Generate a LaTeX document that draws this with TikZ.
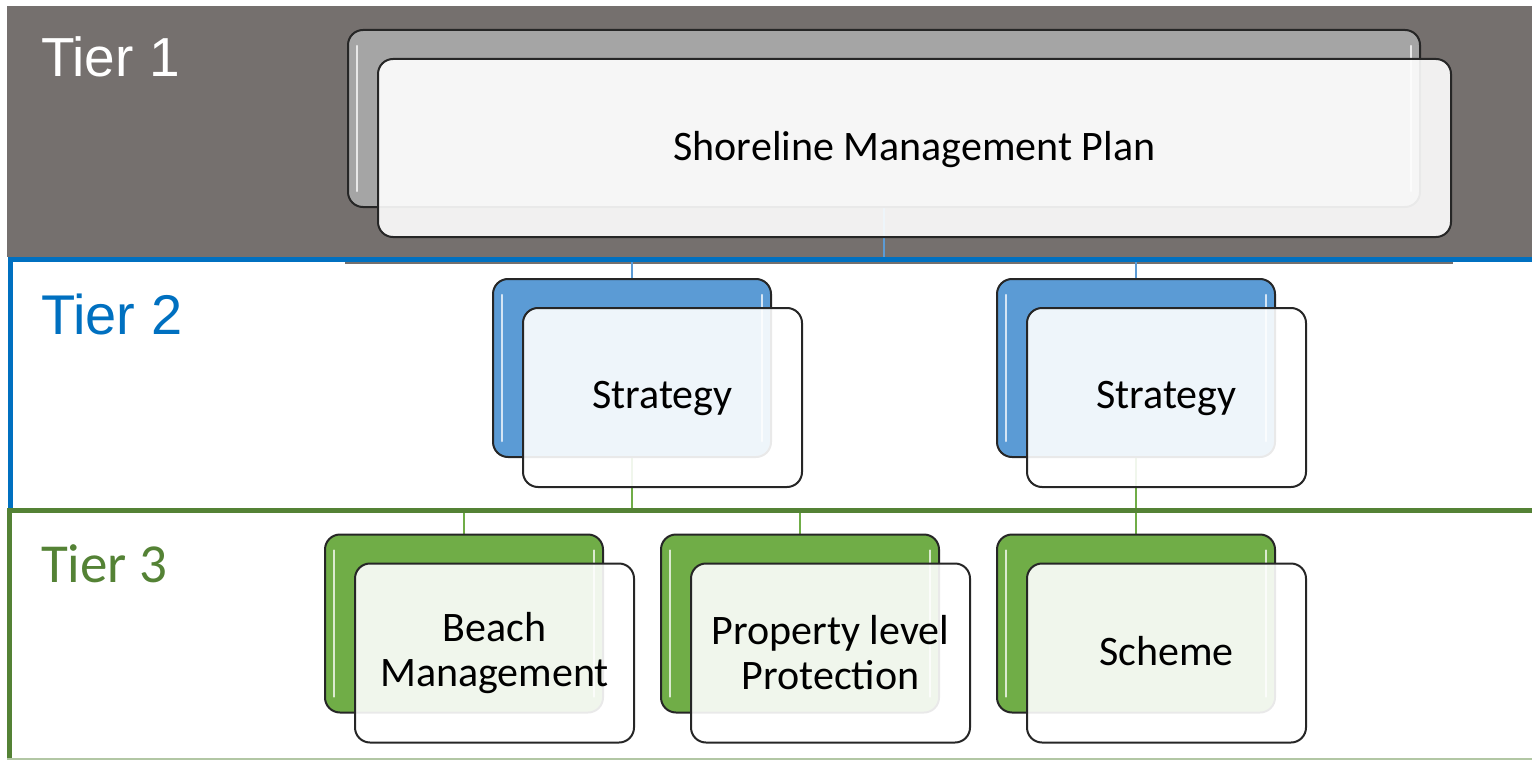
\documentclass[tikz,border=0pt]{standalone}
\usepackage{fontspec}
\setmainfont{Carlito}
\newfontfamily\arialfont{Liberation Sans}
\usetikzlibrary{calc,positioning}
\usetikzlibrary{backgrounds}

\definecolor{bandgray}{RGB}{117,112,110}
\definecolor{tiertwoblue}{RGB}{0,112,192}
\definecolor{tierthreegreen}{RGB}{84,130,53}
\definecolor{smpgray}{RGB}{165,165,165}
\definecolor{stratblue}{RGB}{91,155,213}
\definecolor{localgreen}{RGB}{112,173,71}

\begin{document}
\begin{tikzpicture}[x=1pt,y=-1pt]
          \tikzstyle{backbox} = [draw=black!85, line width=2pt, rounded corners=15pt, minimum width=278pt, minimum height=178pt, inner sep=0pt]
          \tikzstyle{frontbox} = [draw=black!85, line width=2pt, rounded corners=15pt, fill=white, fill opacity=0.9, text opacity=1, minimum width=279pt, minimum height=179pt, inner sep=0pt, align=center, font=\fontsize{42}{45}\selectfont]
          \tikzstyle{tierlabel} = [anchor=base west, inner sep=0pt]
          \tikzstyle{bluelink} = [stratblue, line width=1.5pt]
          \tikzstyle{greenlink} = [localgreen, line width=1.5pt]
          \tikzstyle{gloss} = [white, line width=2.5pt, line cap=round, opacity=0.75]
          \useasboundingbox (0,0) rectangle (1532,760);

          % back boxes
          \node[backbox, fill=smpgray, minimum width=1072pt, minimum height=177pt] (smp) at (884,118.5) {};
          \node[backbox, fill=stratblue] (sa) at (632,368) {};
          \node[backbox, fill=stratblue] (sb) at (1136,368) {};
          \node[backbox, fill=localgreen] (bm) at (464,623.5) {};
          \node[backbox, fill=localgreen] (pl) at (800,623.5) {};
          \node[backbox, fill=localgreen] (sc) at (1136,623.5) {};
          \foreach \b in {smp,sa,sb,bm,pl,sc} {
            \draw[gloss] ($(\b.north west)+(10,17)$) -- ($(\b.south west)+(10,-17)$);
            \draw[gloss] ($(\b.north east)+(-10,17)$) -- ($(\b.south east)+(-10,-17)$);
          }

          % front boxes
          \node[frontbox, minimum width=1073pt, minimum height=178pt, text depth=5pt] (smpf) at ($(smp)+(30.5,29.5)$) {Shoreline Management Plan};
          \node[frontbox, text depth=5pt] (saf) at ($(sa)+(30.5,29.5)$) {Strategy};
          \node[frontbox, text depth=5pt] (sbf) at ($(sb)+(30.5,29.5)$) {Strategy};
          \node[frontbox] (bmf) at ($(bm)+(30.5,29.5)$) {Beach\\Management};
          \node[frontbox] (plf) at ($(pl)+(30.5,29.5)$) {Property level\\Protection};
          \node[frontbox, text depth=5pt] (scf) at ($(sc)+(30.5,29.5)$) {Scheme};

          % tiers
          \node[tierlabel, text=white, font=\arialfont\fontsize{55}{60}\selectfont] (t1) at (41,77) {Tier 1};
          \node[tierlabel, text=tiertwoblue, font=\arialfont\fontsize{56}{60}\selectfont] (t2) at (41,334) {Tier 2};
          \node[tierlabel, text=tierthreegreen, font=\fontsize{55}{60}\selectfont] (t3) at (41,582) {Tier 3};

          \begin{scope}[on background layer]
            \fill[bandgray] (7,6) rectangle (1532,257);
            \fill[bandgray] (345,250) rectangle (1453,264);
            \draw[bluelink] (smp.south) -- ++(0,53) -| (sa.north);
            \draw[bluelink] (smp.south) -- ++(0,53) -| (sb.north);
            \draw[greenlink] (sa.south) -- ++(0,53) -| (bm.north);
            \draw[greenlink] (sa.south) -- ++(0,53) -| (pl.north);
            \draw[greenlink] (sb.south) -- (sc.north);
            \draw[tiertwoblue, line width=5pt] (1540,259.5) -| (10.25,510);
            \draw[tierthreegreen, line width=5pt] (1540,510.5) -| (9.5,759);
            \draw[tierthreegreen!45, line width=1.5pt] (7,759) -- (1532,759);
          \end{scope}
        \end{tikzpicture}
\end{document}
